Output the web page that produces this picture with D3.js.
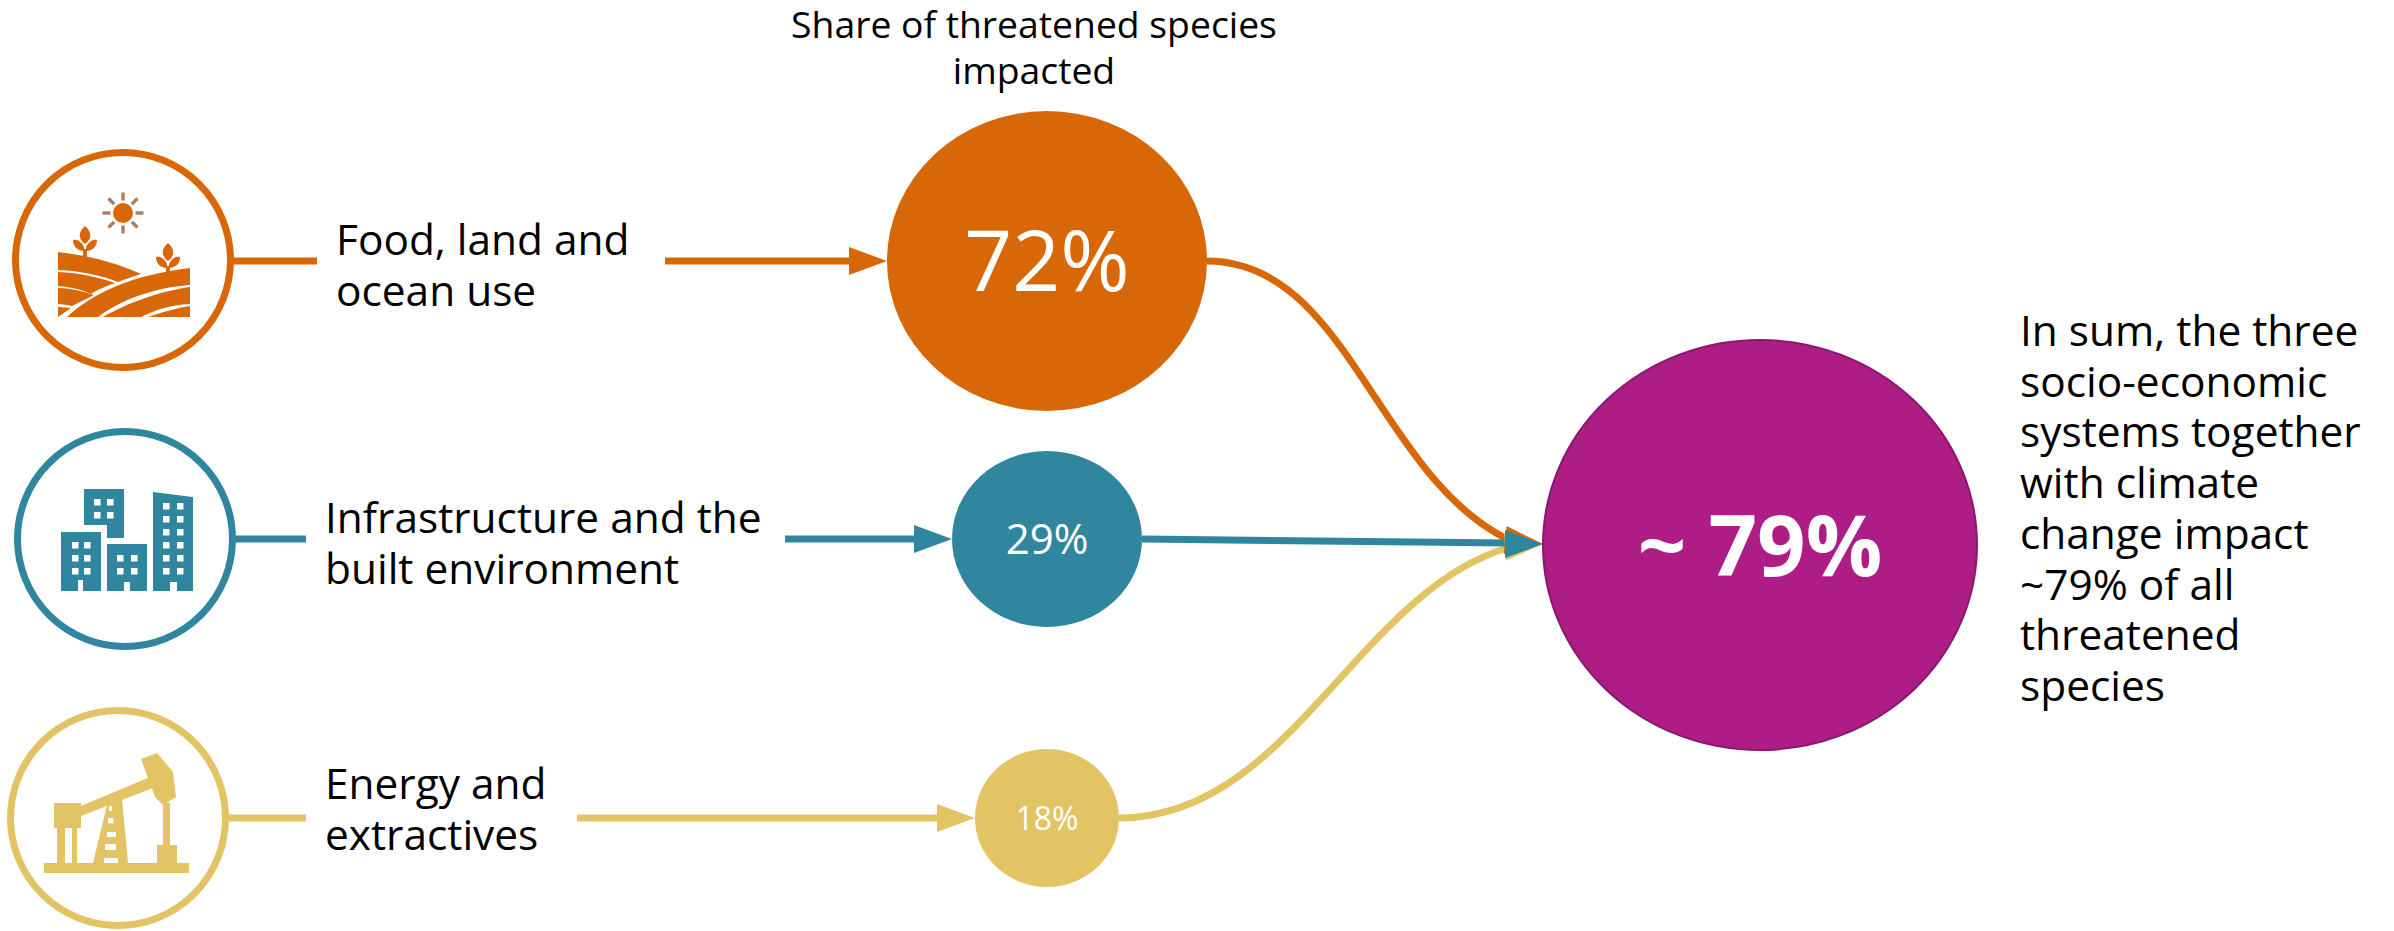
<!DOCTYPE html>
<html>
<head>
<meta charset="utf-8">
<script src="https://cdn.jsdelivr.net/npm/d3@7"></script>
<style>
  html, body { margin: 0; padding: 0; background: #fff; }
  svg { display: block; }
  text { font-family: "Open Sans", sans-serif; fill: #000; }
</style>
</head>
<body>
<svg id="chart"></svg>
<script>
// Socio-economic systems and their share of threatened species
const systems = ["Food, land and ocean use", "Infrastructure and the built environment", "Energy and extractives"];
const shares = [72, 29, 18];
const colors = ["#D76707", "#31869F", "#E3C464"];
const shareLabels = ["72%", "29%", "18%"];
const labelLines = [["Food, land and", "ocean use"], ["Infrastructure and the", "built environment"], ["Energy and", "extractives"]];
const totalShare = 79;
const totalLabel = "~ 79%";
const totalColor = "#AE1C85";
const titleLines = ["Share of threatened species", "impacted"];
const sumLines = ["In sum, the three", "socio-economic", "systems together", "with climate", "change impact", "~79% of all", "threatened", "species"];

const width = 2394;
const height = 931;

// Bubble radii per share
const rx = d3.scaleLinear().domain([18, 29, 72, 79]).range([72, 95, 160, 217]);
const ry = d3.scaleLinear().domain([18, 29, 72, 79]).range([69, 88, 150, 205]);

// Row layout
const rows = [
  {iconX: 123, iconY: 260, stubTo: 317, labelX: 336, labelY: 255, lineFrom: 665, bubbleX: 1047, y: 261},
  {iconX: 125, iconY: 539, stubTo: 306, labelX: 325, labelY: 533, lineFrom: 785, bubbleX: 1047, y: 539},
  {iconX: 118, iconY: 818, stubTo: 306, labelX: 325, labelY: 799, lineFrom: 577, bubbleX: 1047, y: 818}
];
const totalX = 1760;
const totalY = 545;
const tip = {x: 1543, y: 544};
const lineWidth = 7;

// Curve handles and head tilt for the links into the total bubble
const linkShape = [
  {c: 140, d: 130, e: -65, endY: 539, tilt: 6},
  {tilt: 0},
  {c: 170, d: 150, e: 45, endY: 548, tilt: -4}
];

const headLen = 38;
const headHalf = 14;
const headPath = `M${-headLen},${-headHalf}L0,0L${-headLen},${headHalf}Z`;

const svg = d3.select("#chart").attr("width", width).attr("height", height);

// Title over the first bubble
svg.append("g").selectAll("text").data(titleLines).join("text")
  .attr("x", 1034).attr("y", (d, i) => 38 + i * 46)
  .attr("text-anchor", "middle").attr("font-size", 37.3).text(d => d);

// Links into the total bubble, teal goes last so its head is on top
const links = svg.append("g").attr("fill", "none");
const heads = svg.append("g");
[0, 2, 1].forEach(i => {
  const s = linkShape[i];
  const startX = rows[i].bubbleX + rx(shares[i]);
  const startY = rows[i].y;
  const endX = tip.x - headLen + 2;
  const p = d3.path();
  p.moveTo(startX, startY);
  if (i === 1) {
    p.lineTo(endX, tip.y - 1);
  } else {
    p.bezierCurveTo(startX + s.c, startY, endX - s.d, s.endY + s.e, endX, s.endY);
  }
  links.append("path").attr("d", p.toString()).attr("stroke", colors[i]).attr("stroke-width", lineWidth);
  heads.append("path").attr("d", headPath)
    .attr("transform", `translate(${tip.x},${tip.y}) rotate(${s.tilt})`)
    .attr("fill", colors[i]);
});

// Rows
const row = svg.append("g").selectAll("g").data(systems).join("g");

row.append("circle")
  .attr("cx", (d, i) => rows[i].iconX).attr("cy", (d, i) => rows[i].iconY)
  .attr("r", 107.5).attr("fill", "#fff")
  .attr("stroke", (d, i) => colors[i]).attr("stroke-width", 7);

row.append("line")
  .attr("x1", (d, i) => rows[i].iconX + 110).attr("x2", (d, i) => rows[i].stubTo)
  .attr("y1", (d, i) => rows[i].y).attr("y2", (d, i) => rows[i].y)
  .attr("stroke", (d, i) => colors[i]).attr("stroke-width", lineWidth);

row.append("text").attr("font-size", 42.4).each(function(d, i) {
  d3.select(this).selectAll("tspan").data(labelLines[i]).join("tspan")
    .attr("x", rows[i].labelX).attr("y", (t, j) => rows[i].labelY + j * 51)
    .text(t => t);
});

row.append("line")
  .attr("x1", (d, i) => rows[i].lineFrom).attr("x2", (d, i) => rows[i].bubbleX - rx(shares[i]) - headLen + 2)
  .attr("y1", (d, i) => rows[i].y).attr("y2", (d, i) => rows[i].y)
  .attr("stroke", (d, i) => colors[i]).attr("stroke-width", lineWidth);

row.append("path")
  .attr("d", headPath)
  .attr("transform", (d, i) => `translate(${rows[i].bubbleX - rx(shares[i])},${rows[i].y})`)
  .attr("fill", (d, i) => colors[i]);

row.append("ellipse")
  .attr("cx", (d, i) => rows[i].bubbleX).attr("cy", (d, i) => rows[i].y)
  .attr("rx", (d, i) => rx(shares[i])).attr("ry", (d, i) => ry(shares[i]))
  .attr("fill", (d, i) => colors[i]);

const valueSizes = [84, 42, 32];
row.append("text")
  .attr("x", (d, i) => rows[i].bubbleX).attr("y", (d, i) => rows[i].y)
  .attr("dy", "0.36em").attr("text-anchor", "middle")
  .attr("font-size", (d, i) => valueSizes[i]).style("fill", "#fff")
  .text((d, i) => shareLabels[i]);

// Total bubble
svg.append("ellipse")
  .attr("cx", totalX).attr("cy", totalY)
  .attr("rx", rx(totalShare)).attr("ry", ry(totalShare))
  .attr("fill", totalColor).attr("stroke", "#861A6C").attr("stroke-width", 2);
svg.append("text")
  .attr("x", totalX).attr("y", totalY).attr("dy", "0.36em")
  .attr("text-anchor", "middle").attr("font-size", 85).attr("font-weight", 700)
  .style("fill", "#fff").text(totalLabel);

// Summary note
svg.append("g").selectAll("text").data(sumLines).join("text")
  .attr("x", 2020).attr("y", (d, i) => 346 + i * 50.7)
  .attr("font-size", 42.4).text(d => d);

// Icons
const icons = svg.append("g");

// Field and sun
const farm = icons.append("g").attr("fill", colors[0]);
farm.append("circle").attr("cx", 123).attr("cy", 213).attr("r", 10);
d3.range(8).forEach(k => {
  farm.append("rect").attr("x", -1.7).attr("y", -20.5).attr("width", 3.4).attr("height", 8)
    .attr("fill", "#AD7B5F")
    .attr("transform", `translate(123,213) rotate(${k * 45})`);
});
[
  "M58,252C85,255 115,262 141,274C135,276 125,279 118,282C100,275 80,271 58,270Z",
  "M58,272C80,273 98,277 115,283C106,286 97,290 91,294C80,289 70,287 58,286Z",
  "M58,288C70,288 82,291 94,295L72,306C68,305 62,304 58,304Z",
  "M58,307L71,308L58,317Z",
  "M67,317C92,294 130,275 190,268L190,285C160,287 125,297 98,317Z",
  "M103,317C125,304 160,291 190,287L190,304C170,305 155,310 141,317Z",
  "M148,317C162,312 178,308 190,306L190,317Z"
].forEach(d => farm.append("path").attr("d", d));
[[85, 241], [168, 258]].forEach(([x, y]) => {
  const sprout = farm.append("g").attr("transform", `translate(${x},${y})`);
  sprout.append("path").attr("d", "M0,-15C7,-9 7,-2 0,3C-7,-2 -7,-9 0,-15Z");
  sprout.append("path").attr("d", "M-1,6C-4,0 -8,-2 -12,-1C-12,6 -7,10 -1,10Z");
  sprout.append("path").attr("d", "M1,6C4,0 8,-2 12,-1C12,6 7,10 1,10Z");
  sprout.append("rect").attr("x", -2).attr("y", 8).attr("width", 4).attr("height", 9);
});

// City blocks with windows
const city = icons.append("g").attr("fill", colors[1]);
const blocks = [
  {d: "M84,489H124V538H107V525H84Z", winX: [94, 107], winY: [499, 512]},
  {d: "M61,532H101V591H83V580H78V591H61Z", winX: [72, 84], winY: [542, 555, 568]},
  {d: "M107,544H147V591H130V582H124V591H107Z", winX: [117, 131], winY: [555, 568]},
  {d: "M153,492L193,497V591H177V582H170V591H153Z", winX: [163, 177], winY: [503, 516, 529, 542, 555, 568]}
];
blocks.forEach(b => {
  city.append("path").attr("d", b.d);
  b.winX.forEach(x => b.winY.forEach(y => {
    city.append("rect").attr("x", x).attr("y", y).attr("width", 6.5).attr("height", 6.5).attr("fill", "#fff");
  }));
});

// Pumpjack
const pump = icons.append("g").attr("fill", colors[2]);
[
  "M44,863H189V873H44Z",
  "M54,803H81V828H77V863H72V828H65V863H57V828H54Z",
  "M81,806L150,777L153,788L81,816Z",
  "M141,759L157,753L173,772L176,797L163,805L155,797Z",
  "M163,803H170V845H177V863H157V845H163Z",
  "M107,805L122,799L128,863H93Z"
].forEach(d => pump.append("path").attr("d", d));
[[109, 806, 3, 5], [108, 818, 5.5, 5.5], [107, 832, 9, 5], [105, 844, 11, 6], [104, 858, 14, 5]].forEach(w => {
  pump.append("rect").attr("x", w[0]).attr("y", w[1]).attr("width", w[2]).attr("height", w[3]).attr("fill", "#fff");
});
</script>
</body>
</html>
